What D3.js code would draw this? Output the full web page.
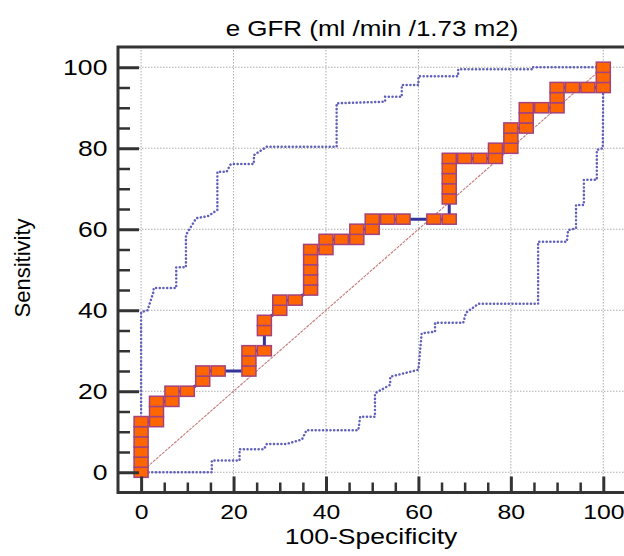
<!DOCTYPE html>
<html>
<head>
<meta charset="utf-8">
<script src="https://cdn.jsdelivr.net/npm/d3@7"></script>
<style>
  body { margin: 0; background: #fff; }
  text { font-family: "Liberation Sans", Arial, sans-serif; fill: #000; }
</style>
</head>
<body>
<div id="roc"></div>
<script>
// ROC points: 100-Specificity (x) and Sensitivity (y)
var rocX = [0, 0, 0, 0, 0, 0,
  3.33, 3.33, 3.33, 6.67, 6.67, 10, 13.33, 13.33, 16.67,
  23.33, 23.33, 23.33, 26.67, 26.67, 26.67, 30, 30, 33.33,
  36.67, 36.67, 36.67, 36.67, 36.67, 40, 40, 43.33, 46.67, 46.67,
  50, 50, 53.33, 56.67, 63.33,
  66.67, 66.67, 66.67, 66.67, 66.67, 66.67, 70, 73.33, 76.67, 76.67,
  80, 80, 80, 83.33, 83.33, 83.33, 86.67, 90, 90, 90,
  93.33, 96.67, 100, 100, 100];
var rocY = [0, 2.5, 5, 7.5, 10, 12.5,
  12.5, 15, 17.5, 17.5, 20, 20, 22.5, 25, 25,
  25, 27.5, 30, 30, 35, 37.5, 40, 42.5, 42.5,
  45, 47.5, 50, 52.5, 55, 55, 57.5, 57.5, 57.5, 60,
  60, 62.5, 62.5, 62.5, 62.5,
  62.5, 67.5, 70, 72.5, 75, 77.5, 77.5, 77.5, 77.5, 80,
  80, 82.5, 85, 85, 87.5, 90, 90, 90, 92.5, 95,
  95, 95, 95, 97.5, 100];

// 95% confidence bounds
var upperX = [0, 0, 1.4, 2.7, 2.7, 7.6, 7.6, 9.7, 9.7, 11.9, 14.6, 16.5, 16.5, 18.5, 19.4,
  24.4, 24.4, 27.2, 42.3, 42.3, 52.8, 52.8, 56.4, 56.4, 60, 60, 68.6, 68.6, 84.5, 84.5, 100];
var upperY = [0, 39.5, 40, 44.6, 45.5, 45.5, 50.6, 50.6, 58.6, 62.7, 63.3, 64.8, 74.2, 74.2, 76.1,
  76.1, 78.3, 80.4, 80.4, 91.1, 91.5, 92.7, 92.7, 95.6, 95.6, 97.8, 97.8, 99.5, 99.5, 100, 100];
var lowerX = [0, 15.3, 15.3, 21.3, 21.3, 26.6, 27.2, 31.5, 34.8, 35.8, 47, 47.4, 50.6, 50.6,
  53.9, 53.9, 60, 60.7, 63.6, 63.6, 69.7, 70.3, 73, 85.9, 85.9, 92.1, 92.4, 94.1, 94.1,
  95.8, 95.8, 98.6, 98.6, 99.9, 100];
var lowerY = [0, 0, 2.9, 2.9, 5.7, 5.7, 7, 7, 8.1, 10.4, 10.4, 13.7, 13.7, 19.5,
  21.6, 23.6, 25.3, 34.3, 34.7, 36.9, 36.9, 39.4, 41.6, 41.6, 56.9, 56.9, 59.8, 60.2, 66,
  66, 72.2, 72.2, 79.6, 80, 100];

var majorTicks = [0, 20, 40, 60, 80, 100];
var minorTicks = [5, 10, 15, 25, 30, 35, 45, 50, 55, 65, 70, 75, 85, 90, 95];

var width = 624, height = 556;
var stretch = 1.18; // the picture is a little wider than tall

var svg = d3.select("#roc")
  .append("svg")
    .attr("width", width)
    .attr("height", height);

var x = d3.scaleLinear().domain([-5, 105]).range([118, 626.4]);
var y = d3.scaleLinear().domain([-5, 105]).range([492.5, 47]);

// grid
svg.append("g").selectAll("line.gx")
  .data(majorTicks)
  .enter().append("line")
    .attr("x1", function(d) { return x(d); })
    .attr("x2", function(d) { return x(d); })
    .attr("y1", y(105)).attr("y2", y(-5))
    .attr("stroke", "#adadad").attr("stroke-width", 1)
    .attr("stroke-dasharray", "1.5,1.5");
svg.append("g").selectAll("line.gy")
  .data(majorTicks)
  .enter().append("line")
    .attr("y1", function(d) { return y(d); })
    .attr("y2", function(d) { return y(d); })
    .attr("x1", x(-5)).attr("x2", x(105))
    .attr("stroke", "#adadad").attr("stroke-width", 1)
    .attr("stroke-dasharray", "1.5,1.5");

// reference diagonal
svg.append("line")
  .attr("x1", x(0)).attr("y1", y(0))
  .attr("x2", x(100)).attr("y2", y(100))
  .attr("stroke", "#c47a7a").attr("stroke-width", 1.1)
  .attr("stroke-dasharray", "3,1");

// confidence bounds
var band = d3.line()
  .x(function(d) { return x(d[0]); })
  .y(function(d) { return y(d[1]); });

[[upperX, upperY], [lowerX, lowerY]].forEach(function(b) {
  svg.append("path")
    .datum(d3.zip(b[0], b[1]))
    .attr("d", band)
    .attr("fill", "none")
    .attr("stroke", "#6060bb")
    .attr("stroke-width", 2.5)
    .attr("stroke-linecap", "round")
    .attr("stroke-dasharray", "0.1,3.6");
});

// ROC curve
var roc = d3.zip(rocX, rocY);
svg.append("path")
  .datum(roc)
  .attr("d", band)
  .attr("fill", "none")
  .attr("stroke", "#333399")
  .attr("stroke-width", 3);

svg.append("g").selectAll("rect")
  .data(roc)
  .enter().append("rect")
    .attr("x", function(d) { return x(d[0]) - 7; })
    .attr("y", function(d) { return y(d[1]) - 5.1; })
    .attr("width", 14)
    .attr("height", 10.2)
    .attr("fill", "#ff6600")
    .attr("stroke", "#a3427c")
    .attr("stroke-width", 1.5);

// frame
svg.append("rect")
  .attr("x", x(-5)).attr("y", y(105))
  .attr("width", x(105) - x(-5)).attr("height", y(-5) - y(105))
  .attr("fill", "none")
  .attr("stroke", "#333").attr("stroke-width", 3);

// Y axis
var yAxis = svg.append("g")
  .attr("transform", "translate(" + x(-5) + ",0)")
  .call(d3.axisLeft(y).tickValues(majorTicks).tickSize(-21).tickPadding(9));
yAxis.select(".domain").remove();
yAxis.selectAll("line").attr("stroke", "#333").attr("stroke-width", 3);
yAxis.selectAll("text")
  .attr("transform", "scale(" + stretch + ",1)")
  .style("font-size", "22.5px").attr("fill", "#000");

var yMinor = svg.append("g")
  .attr("transform", "translate(" + x(-5) + ",0)")
  .call(d3.axisLeft(y).tickValues(minorTicks).tickSize(-12).tickFormat(""));
yMinor.select(".domain").remove();
yMinor.selectAll("line").attr("stroke", "#333").attr("stroke-width", 2.5);

// X axis
var xAxis = svg.append("g")
  .attr("transform", "translate(0," + y(-5) + ")")
  .call(d3.axisBottom(x).tickValues(majorTicks).tickSize(-16).tickPadding(12));
xAxis.select(".domain").remove();
xAxis.selectAll("line").attr("stroke", "#333").attr("stroke-width", 3);
xAxis.selectAll("text")
  .attr("transform", "scale(" + stretch + ",1)")
  .style("font-size", "21px").attr("fill", "#000");

var xMinor = svg.append("g")
  .attr("transform", "translate(0," + y(-5) + ")")
  .call(d3.axisBottom(x).tickValues(minorTicks).tickSize(-10).tickFormat(""));
xMinor.select(".domain").remove();
xMinor.selectAll("line").attr("stroke", "#333").attr("stroke-width", 2.5);

// title and axis labels
svg.append("text")
  .attr("transform", "translate(372,36) scale(" + stretch + ",1)")
  .style("text-anchor", "middle")
  .style("font-size", "22px")
  .text("e GFR (ml /min /1.73 m2)");

svg.append("text")
  .attr("transform", "translate(371,544) scale(" + stretch + ",1)")
  .style("text-anchor", "middle")
  .style("font-size", "22.5px")
  .text("100-Specificity");

svg.append("text")
  .attr("transform", "translate(30,268) rotate(-90)")
  .style("text-anchor", "middle")
  .style("font-size", "22px")
  .text("Sensitivity");
</script>
</body>
</html>
